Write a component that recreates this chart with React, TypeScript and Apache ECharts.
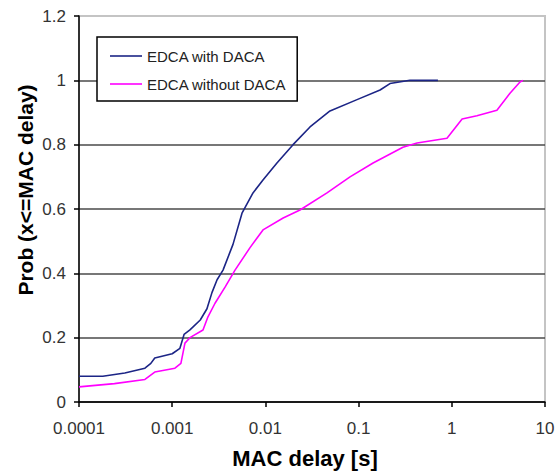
import React, { useEffect, useRef } from "react";
import * as echarts from "echarts";

const seriesNames = ["EDCA with DACA", "EDCA without DACA"];

const withDacaX = [1e-4, 1.8e-4, 3.1e-4, 5.1e-4, 5.9e-4, 6.5e-4, 1.0e-3, 1.21e-3, 1.34e-3, 1.55e-3, 2.0e-3, 2.36e-3, 2.67e-3, 3.03e-3, 3.51e-3, 4.49e-3, 5.61e-3, 7.36e-3, 9.42e-3, 0.0133, 0.0198, 0.0301, 0.0493, 0.0962, 0.17, 0.217, 0.356, 0.71];
const withDacaY = [0.08, 0.08, 0.09, 0.105, 0.12, 0.137, 0.15, 0.167, 0.21, 0.224, 0.255, 0.29, 0.34, 0.38, 0.41, 0.49, 0.587, 0.65, 0.69, 0.743, 0.8, 0.855, 0.905, 0.94, 0.97, 0.99, 1.0, 1.0];

const withoutDacaX = [1e-4, 2.4e-4, 5.1e-4, 6.5e-4, 1.07e-3, 1.24e-3, 1.37e-3, 1.55e-3, 2.14e-3, 2.42e-3, 2.88e-3, 3.69e-3, 4.72e-3, 6.84e-3, 9.42e-3, 0.0155, 0.0235, 0.0458, 0.0809, 0.143, 0.299, 0.424, 0.888, 1.29, 1.86, 3.05, 4.21, 5.39, 5.81];
const withoutDacaY = [0.047, 0.057, 0.07, 0.093, 0.105, 0.12, 0.183, 0.2, 0.224, 0.265, 0.307, 0.357, 0.41, 0.48, 0.535, 0.572, 0.597, 0.65, 0.7, 0.743, 0.792, 0.805, 0.82, 0.88, 0.89, 0.907, 0.96, 0.995, 1.0];

const xTickLabels = ["0.0001", "0.001", "0.01", "0.1", "1", "10"];
const yTickLabels = ["0", "0.2", "0.4", "0.6", "0.8", "1", "1.2"];

const xTitle = "MAC delay [s]";
const yTitle = "Prob (x<=MAC delay)";

const FONT = "'Liberation Sans', Arial, sans-serif";

export default function App() {
  const ref = useRef<HTMLDivElement>(null);
  useEffect(() => {
    document.body.style.margin = "0";
    if (!ref.current) return;
    const chart = echarts.init(ref.current, null, { renderer: "svg" });
    const pairs = (xs: number[], ys: number[]) => xs.map((x, i) => [x, ys[i]]);
    chart.setOption({
      animation: false,
      backgroundColor: "#fff",
      grid: {
        left: 79,
        right: 15,
        top: 16,
        bottom: 69,
        show: true,
        borderColor: "#c4c4c4",
        borderWidth: 2,
      },
      legend: {
        left: 97,
        top: 37,
        orient: "vertical",
        icon: "rect",
        padding: [11, 11, 9, 13],
        itemGap: 12,
        itemWidth: 32,
        itemHeight: 1.6,
        backgroundColor: "#fff",
        borderColor: "#000",
        borderWidth: 1.5,
        borderRadius: 0,
        textStyle: { fontFamily: FONT, fontSize: 15, color: "#222", lineHeight: 16 },
        data: seriesNames,
      },
      xAxis: {
        type: "log",
        logBase: 10,
        min: 0.0001,
        max: 10,
        axisLine: { show: true, lineStyle: { color: "#000", width: 1.5 } },
        axisTick: { show: true, length: 5, lineStyle: { color: "#000", width: 1.5 } },
        axisLabel: {
          margin: 18,
          fontFamily: FONT,
          fontSize: 17,
          color: "#333",
          formatter: (v: number) => xTickLabels[Math.round(Math.log10(v)) + 4] ?? "",
        },
        splitLine: { show: false },
        minorTick: { show: false },
      },
      yAxis: {
        type: "value",
        min: 0,
        max: 1.2,
        interval: 0.2,
        axisLine: { show: true, lineStyle: { color: "#000", width: 1.5 } },
        axisTick: { show: true, length: 5, lineStyle: { color: "#000", width: 1.5 } },
        axisLabel: {
          margin: 13,
          fontFamily: FONT,
          fontSize: 17,
          color: "#333",
          formatter: (v: number) => yTickLabels[Math.round(v * 5)] ?? "",
        },
        splitLine: {
          show: true,
          showMaxLine: false,
          lineStyle: { color: "#4a4a4a", width: 1.5 },
        },
      },
      graphic: [
        {
          type: "text",
          x: 305,
          y: 458,
          style: {
            text: xTitle,
            fontFamily: FONT,
            fontWeight: "bold",
            fontSize: 22,
            fill: "#000",
            textAlign: "center",
            textVerticalAlign: "middle",
          },
        },
        {
          type: "text",
          x: 25,
          y: 190,
          rotation: Math.PI / 2,
          style: {
            text: yTitle,
            fontFamily: FONT,
            fontWeight: "bold",
            fontSize: 21,
            fill: "#000",
            textAlign: "center",
            textVerticalAlign: "middle",
          },
        },
      ],
      series: [
        {
          name: seriesNames[0],
          type: "line",
          symbol: "none",
          data: pairs(withDacaX, withDacaY),
          lineStyle: { color: "#1c2586", width: 1.6 },
          itemStyle: { color: "#1c2586" },
        },
        {
          name: seriesNames[1],
          type: "line",
          symbol: "none",
          data: pairs(withoutDacaX, withoutDacaY),
          lineStyle: { color: "#ff00ff", width: 1.6 },
          itemStyle: { color: "#ff00ff" },
        },
      ],
    });
    return () => chart.dispose();
  }, []);
  return <div ref={ref} style={{ width: 560, height: 471 }} />;
}
